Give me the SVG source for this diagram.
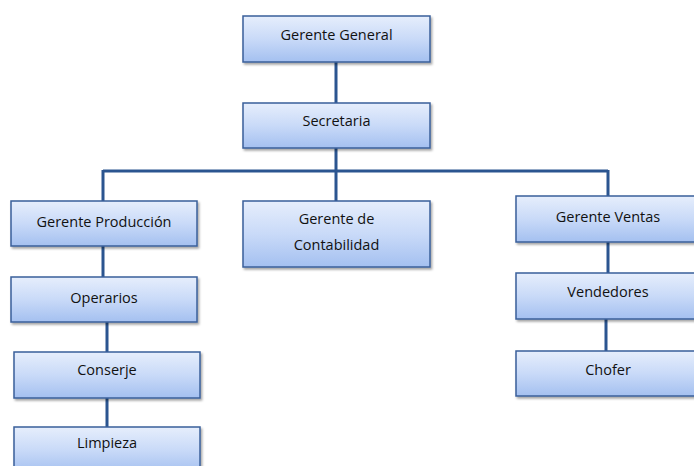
<svg xmlns="http://www.w3.org/2000/svg" width="694" height="466" viewBox="0 0 694 466">
<defs>
<linearGradient id="g" x1="0" y1="0" x2="0" y2="1">
<stop offset="0" stop-color="#e6eefc"/>
<stop offset="0.5" stop-color="#c9daf8"/>
<stop offset="1" stop-color="#a4c0f0"/>
</linearGradient>
<filter id="sh" x="-10%" y="-10%" width="130%" height="140%">
<feDropShadow dx="1.5" dy="2" stdDeviation="1.2" flood-color="#000" flood-opacity="0.35"/>
</filter>
</defs>
<style>
.box{fill:url(#g);stroke:#3a5f9a;stroke-width:1.5;filter:url(#sh)}
.t{font-family:"Open Sans","Liberation Sans",sans-serif;font-size:14.5px;fill:#111;text-anchor:middle}
.c{stroke:#2b5590;stroke-width:3;fill:none}
</style>
<rect width="694" height="466" fill="#fff"/>
<g id="connectors">
<path class="c" d="M336 62V103M336 148V171M103 171H608M103 170V201M336 171V201M608 170V196"/>
<path class="c" d="M103 246V277M107 322V352M107 398V427M608 242V273M606 319V351"/>
</g>
<g id="gerente-general"><rect class="box" x="243" y="16" width="187" height="46"/><text class="t" x="336.5" y="40">Gerente General</text></g>
<g id="secretaria"><rect class="box" x="243" y="103" width="187" height="45"/><text class="t" x="336.5" y="126">Secretaria</text></g>
<g id="gerente-produccion"><rect class="box" x="11" y="201" width="186" height="45"/><text class="t" x="104" y="227">Gerente Producción</text></g>
<g id="gerente-contabilidad"><rect class="box" x="243" y="201" width="187" height="66"/><text class="t" x="336.5" y="224">Gerente de</text><text class="t" x="336.5" y="250">Contabilidad</text></g>
<g id="gerente-ventas"><rect class="box" x="516" y="196" width="182" height="46"/><text class="t" x="608" y="222">Gerente Ventas</text></g>
<g id="operarios"><rect class="box" x="11" y="277" width="186" height="45"/><text class="t" x="104" y="303">Operarios</text></g>
<g id="vendedores"><rect class="box" x="516" y="273" width="182" height="46"/><text class="t" x="608" y="297">Vendedores</text></g>
<g id="conserje"><rect class="box" x="14" y="352" width="186" height="46"/><text class="t" x="107" y="375">Conserje</text></g>
<g id="chofer"><rect class="box" x="516" y="351" width="182" height="45"/><text class="t" x="608" y="375">Chofer</text></g>
<g id="limpieza"><rect class="box" x="14" y="427" width="186" height="46"/><text class="t" x="107" y="448">Limpieza</text></g>
</svg>
